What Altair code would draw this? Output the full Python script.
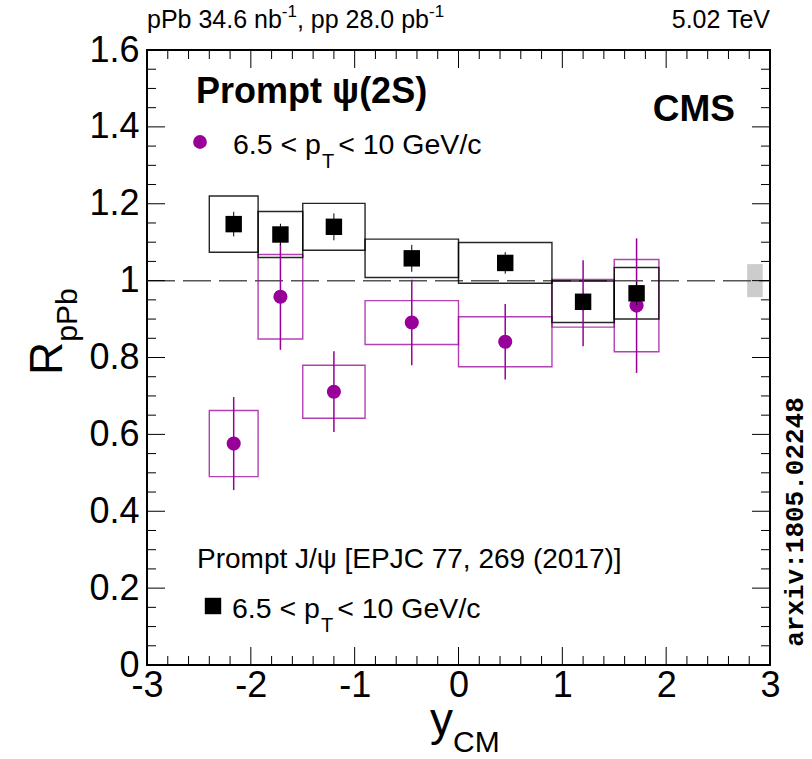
import altair as alt
import pandas as pd

# ---------------- data ----------------
bin_lo = [-2.4, -1.93, -1.5, -0.9, 0.0, 0.9, 1.5]
bin_hi = [-1.93, -1.5, -0.9, 0.0, 0.9, 1.5, 1.93]

psi2s_r = [0.576, 0.958, 0.711, 0.891, 0.841, 0.941, 0.935]
psi2s_stat = [0.121, 0.138, 0.105, 0.111, 0.098, 0.112, 0.175]
psi2s_syst = [0.086, 0.110, 0.069, 0.057, 0.065, 0.062, 0.120]

jpsi_r = [1.147, 1.120, 1.140, 1.058, 1.046, 0.945, 0.967]
jpsi_stat = [0.032, 0.028, 0.035, 0.035, 0.028, 0.020, 0.030]
jpsi_syst = [0.073, 0.060, 0.061, 0.050, 0.053, 0.054, 0.067]

global_unc = 0.043
global_x = [2.78, 2.93]

x_major = [-3, -2, -1, 0, 1, 2, 3]
y_major = [0, 0.2, 0.4, 0.6, 0.8, 1, 1.2, 1.4, 1.6]
x_minor = [v for v in [round(-3 + 0.2 * i, 1) for i in range(31)] if v not in x_major]
y_minor = [v for v in [round(0.05 * i, 2) for i in range(33)] if v not in y_major]

# ---------------- layout ----------------
W = 623
H = 615
MAG = "#990099"
SANS = "Liberation Sans"
MONO = "Liberation Mono"

xs = alt.Scale(domain=[-3, 3], nice=False, zero=False)
ys = alt.Scale(domain=[0, 1.6], nice=False, zero=False)
xax = alt.Axis(values=x_major, labelExpr="'' + datum.value", ticks=False, domain=False,
               grid=False, labelFontSize=36, labelFont=SANS, labelColor="black",
               labelPadding=3, title=None, labelFlush=False, labelOverlap=False)
yax = alt.Axis(values=y_major, labelExpr="'' + datum.value", ticks=False, domain=False,
               grid=False, labelFontSize=36, labelFont=SANS, labelColor="black",
               labelPadding=8, title=None, labelOverlap=False)


def X(f):
    return alt.X(f, type="quantitative", scale=xs, axis=xax)


def Y(f):
    return alt.Y(f, type="quantitative", scale=ys, axis=yax)


def frame(r, stat, syst):
    return pd.DataFrame({
        "lo": bin_lo, "hi": bin_hi,
        "mid": [(a + b) / 2 for a, b in zip(bin_lo, bin_hi)],
        "r": r,
        "slo": [a - b for a, b in zip(r, stat)], "shi": [a + b for a, b in zip(r, stat)],
        "ylo": [a - b for a, b in zip(r, syst)], "yhi": [a + b for a, b in zip(r, syst)],
    })


psi = frame(psi2s_r, psi2s_stat, psi2s_syst)
jp = frame(jpsi_r, jpsi_stat, jpsi_syst)
glob = pd.DataFrame({"x1": [global_x[0]], "x2": [global_x[1]],
                     "y1": [1 - global_unc], "y2": [1 + global_unc]})
unity = pd.DataFrame({"x1": [-3], "x2": [3], "y": [1]})
one = pd.DataFrame({"a": [0]})

layers = []
layers.append(alt.Chart(glob).mark_rect(fill="#cccccc").encode(
    x=X("x1"), x2="x2", y=Y("y1"), y2="y2"))
layers.append(alt.Chart(unity).mark_rule(color="#555555", strokeWidth=1.5, strokeDash=[28, 8]).encode(
    x=X("x1"), x2="x2", y=Y("y")))
layers.append(alt.Chart(psi).mark_rect(fill="transparent", stroke=MAG, strokeOpacity=0.75, strokeWidth=1.4).encode(
    x=X("lo"), x2="hi", y=Y("ylo"), y2="yhi"))
layers.append(alt.Chart(jp).mark_rect(fill="transparent", stroke="black", strokeOpacity=0.85, strokeWidth=1.4).encode(
    x=X("lo"), x2="hi", y=Y("ylo"), y2="yhi"))
layers.append(alt.Chart(psi).mark_rule(color=MAG, strokeWidth=1.5).encode(
    x=X("mid"), y=Y("slo"), y2="shi"))
layers.append(alt.Chart(psi).mark_point(shape="circle", filled=True, size=200, color=MAG, opacity=1).encode(
    x=X("mid"), y=Y("r")))
layers.append(alt.Chart(jp).mark_rule(color="black", strokeWidth=1).encode(
    x=X("mid"), y=Y("slo"), y2="shi"))
layers.append(alt.Chart(jp).mark_point(shape="square", filled=True, size=270, color="black", opacity=1).encode(
    x=X("mid"), y=Y("r")))


def ticks(vals, length, axis):
    df = pd.DataFrame({"v": vals})
    out = []
    if axis == "x":
        out.append(alt.Chart(df).mark_rule(color="black", strokeWidth=1).encode(
            x=X("v"), y=alt.value(H), y2=alt.value(H - length)))
        out.append(alt.Chart(df).mark_rule(color="black", strokeWidth=1).encode(
            x=X("v"), y=alt.value(0), y2=alt.value(length)))
    else:
        out.append(alt.Chart(df).mark_rule(color="black", strokeWidth=1).encode(
            y=Y("v"), x=alt.value(0), x2=alt.value(length)))
        out.append(alt.Chart(df).mark_rule(color="black", strokeWidth=1).encode(
            y=Y("v"), x=alt.value(W), x2=alt.value(W - length)))
    return out


layers += ticks(x_major, 18, "x") + ticks(x_minor, 9, "x")
layers += ticks(y_major, 18, "y") + ticks(y_minor, 9, "y")

# Helvetica-like advance widths (em)
CW = {"0": .556, "1": .556, "2": .556, "3": .556, "4": .556, "5": .556, "6": .556, "7": .556,
      "8": .556, "9": .556, ".": .278, " ": .278, ",": .278, "<": .584, "p": .556, "P": .667,
      "b": .556, "n": .556, "G": .778, "e": .556, "V": .667, "/": .278, "c": .5, "T": .611,
      "-": .333, "R": .722, "y": .5, "C": .722, "M": .833}


def tw(s, size):
    return sum(CW.get(ch, .556) for ch in s) * size


def label(text, x, y, size, weight="normal", align="left", angle=0, font=SANS, color="black"):
    return alt.Chart(one).mark_text(text=text, fontSize=size, fontWeight=weight, align=align,
                                    baseline="alphabetic", angle=angle, font=font,
                                    color=color).encode(x=alt.value(x), y=alt.value(y))


# top line
s0, sup = 25, 17
x0 = 0
t1 = "pPb 34.6 nb"
t2 = ", pp 28.0 pb"
layers.append(label(t1, x0, -22, s0))
xa = x0 + tw(t1, s0)
layers.append(label("-1", xa, -33, sup))
xb = xa + tw("-1", sup)
layers.append(label(t2, xb, -22, s0))
xc = xb + tw(t2, s0)
layers.append(label("-1", xc, -33, sup))
layers.append(label("5.02 TeV", W, -22, s0, align="right"))

# header labels
layers.append(label("Prompt  \u03c8(2S)", 49, 53, 36, weight="bold"))
layers.append(label("CMS", 588, 71, 37, weight="bold", align="right"))


def pt_label(x, y, size=28.5):
    a = "6.5 < p"
    b = " < 10 GeV/c"
    out = [label(a, x, y, size)]
    xt = x + tw(a, size)
    out.append(label("T", xt + 1, y + 14, 20))
    out.append(label(b, xt + tw("T", 20) + 5, y, size))
    return out


# legend psi(2S)
leg1 = pd.DataFrame({"a": [0]})
layers.append(alt.Chart(leg1).mark_point(shape="circle", filled=True, size=190, color=MAG, opacity=1).encode(
    x=alt.value(53), y=alt.value(92)))
layers += pt_label(86, 104)

# legend J/psi
layers.append(label("Prompt J/\u03c8 [EPJC 77, 269 (2017)]", 50, 518, 28))
layers.append(alt.Chart(leg1).mark_point(shape="square", filled=True, size=270, color="black", opacity=1).encode(
    x=alt.value(66), y=alt.value(556)))
layers += pt_label(85, 568)

# axis titles
layers.append(label("y", 283, 685, 46))
layers.append(label("CM", 283 + tw("y", 46), 702, 30))
layers.append(label("R", -85, 325, 46, angle=270))
layers.append(label("pPb", -70, 325 - tw("R", 46), 30, angle=270))

# arXiv stamp
layers.append(label("arxiv:1805.02248", 656, 472, 26, weight="bold", align="center", angle=270, font=MONO))

chart = alt.layer(*layers).properties(
    width=W, height=H,
    padding={"left": 147, "top": 50, "right": 42, "bottom": 94},
    autosize=alt.AutoSizeParams(type="none"),
).configure_view(stroke="black", strokeWidth=2)

chart.save("out.html", embed_options={"renderer": "svg", "actions": False})
